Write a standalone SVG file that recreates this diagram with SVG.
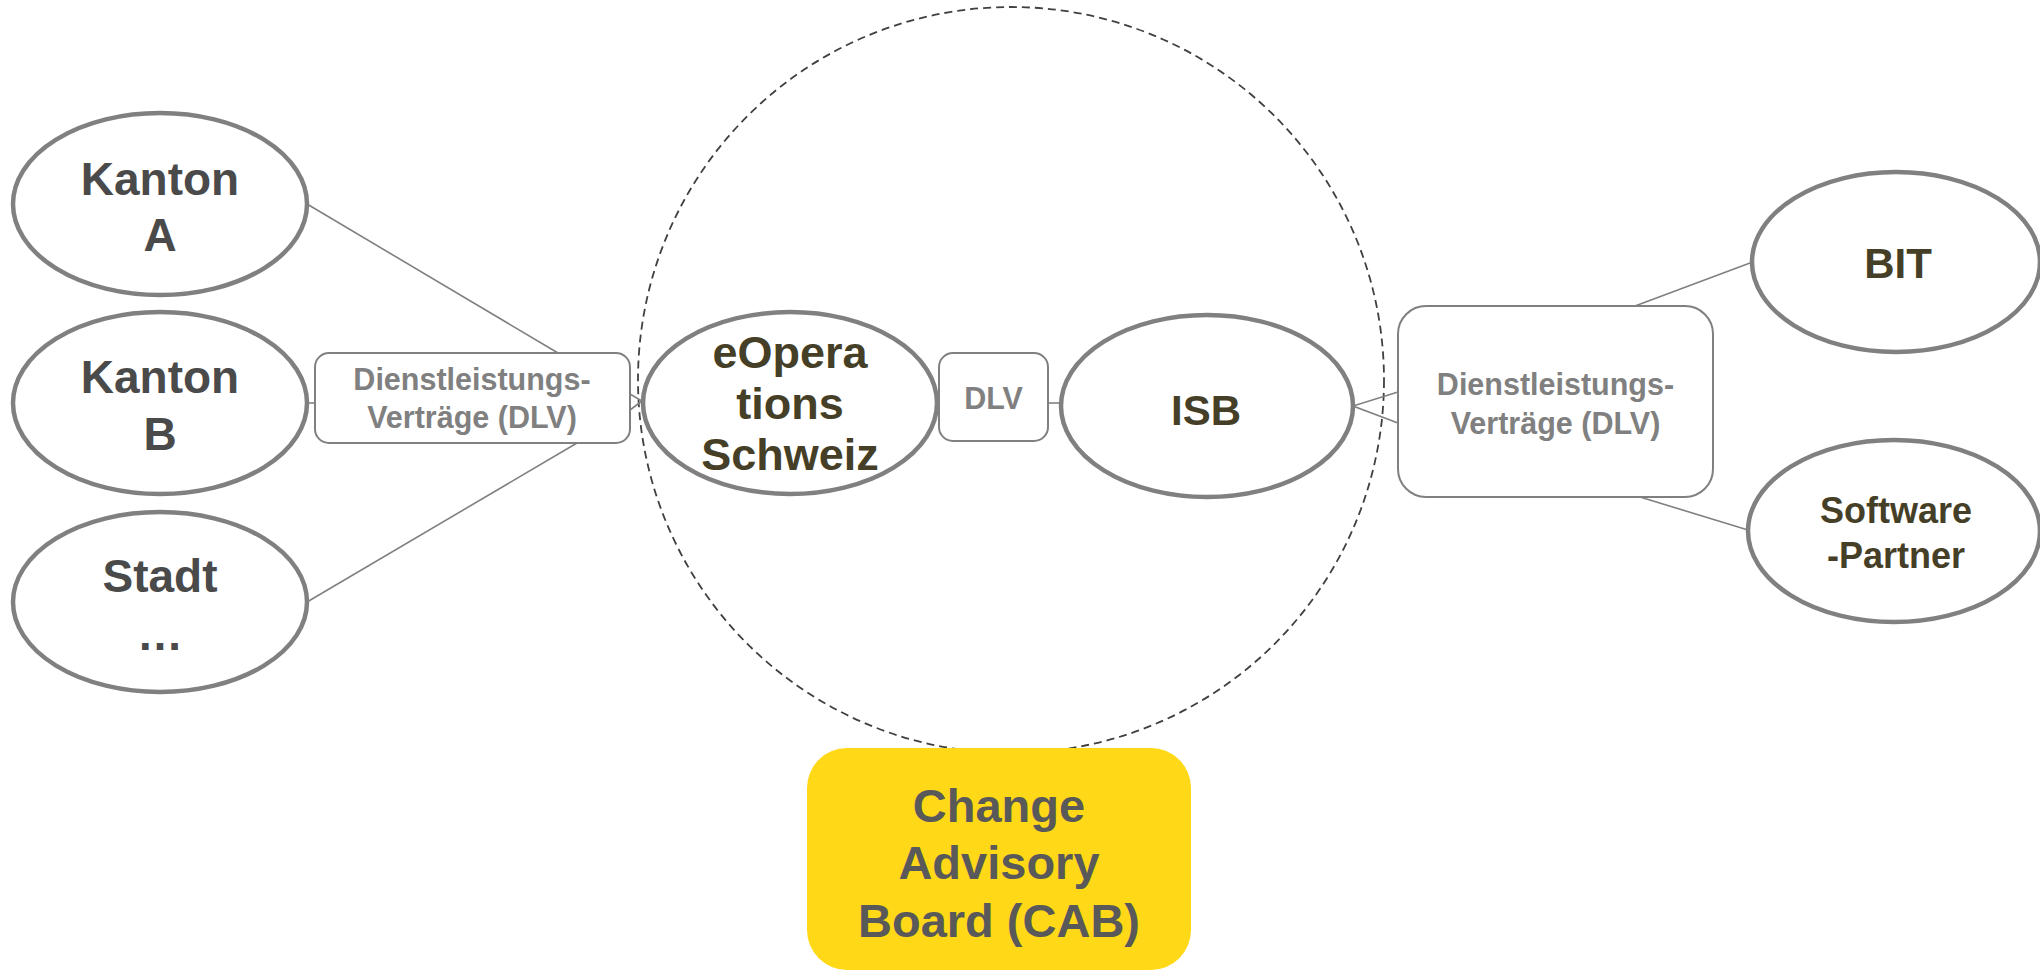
<svg xmlns="http://www.w3.org/2000/svg" width="2040" height="972" viewBox="0 0 2040 972">
<style>
.ell{fill:#fff;stroke:#808080;stroke-width:4.5}
.box{fill:#fff;stroke:#808080;stroke-width:2}
.con{stroke:#808080;stroke-width:1.6;fill:none}
.t{font-family:"Liberation Sans",Arial,sans-serif;font-weight:bold;text-anchor:middle}
.dark{fill:#4a4a4a;font-size:46px}
.olive{fill:#463f27}
.grey{fill:#808080;font-size:30.5px}
.cab{fill:#595959;font-size:47px}
</style>
<rect width="2040" height="972" fill="#fff"/>
<g id="scope">
<circle cx="1011" cy="380" r="373" fill="none" stroke="#404040" stroke-width="1.8" stroke-dasharray="8 5"/>
</g>
<g id="connectors">
<line class="con" x1="307" y1="204" x2="558" y2="353"/>
<line class="con" x1="307" y1="403" x2="315" y2="403"/>
<line class="con" x1="307" y1="602" x2="577" y2="443"/>
<polyline class="con" points="630,394 642,401 630,410"/>
<line class="con" x1="937" y1="403" x2="939" y2="403"/>
<line class="con" x1="1048" y1="403" x2="1062" y2="403"/>
<polyline class="con" points="1398,392 1353,406 1398,423"/>
<line class="con" x1="1635" y1="306" x2="1750" y2="263"/>
<line class="con" x1="1640" y1="497" x2="1748" y2="530"/>
</g>
<g id="kanton-a">
<ellipse class="ell" cx="160" cy="204" rx="147" ry="91"/>
<text class="t dark" x="160" y="195">Kanton</text>
<text class="t dark" x="160" y="251">A</text>
</g>
<g id="kanton-b">
<ellipse class="ell" cx="160" cy="403" rx="147" ry="91"/>
<text class="t dark" x="160" y="393">Kanton</text>
<text class="t dark" x="160" y="450">B</text>
</g>
<g id="stadt">
<ellipse class="ell" cx="160" cy="602" rx="147" ry="90"/>
<text class="t dark" x="160" y="592">Stadt</text>
<text class="t dark" x="160" y="650">…</text>
</g>
<g id="dlv-left">
<rect class="box" x="315" y="353" width="315" height="90" rx="14"/>
<text class="t grey" x="472" y="390">Dienstleistungs-</text>
<text class="t grey" x="472" y="428">Verträge (DLV)</text>
</g>
<g id="eoperations">
<ellipse class="ell" cx="790" cy="403" rx="147" ry="91"/>
<text class="t olive" x="790" y="368" font-size="45">eOpera</text>
<text class="t olive" x="790" y="419" font-size="45">tions</text>
<text class="t olive" x="790" y="470" font-size="45">Schweiz</text>
</g>
<g id="dlv-mid">
<rect class="box" x="939" y="353" width="109" height="88" rx="14"/>
<text class="t grey" x="993.5" y="409" font-size="32">DLV</text>
</g>
<g id="isb">
<ellipse class="ell" cx="1207" cy="406" rx="146" ry="91"/>
<text class="t olive" x="1206" y="425" font-size="42">ISB</text>
</g>
<g id="dlv-right">
<rect class="box" x="1398" y="306" width="315" height="191" rx="28"/>
<text class="t grey" x="1555.5" y="395">Dienstleistungs-</text>
<text class="t grey" x="1555.5" y="434">Verträge (DLV)</text>
</g>
<g id="bit">
<ellipse class="ell" cx="1896" cy="262" rx="144" ry="90"/>
<text class="t olive" x="1898" y="278" font-size="42">BIT</text>
</g>
<g id="software-partner">
<ellipse class="ell" cx="1894" cy="531" rx="146" ry="91"/>
<text class="t olive" x="1896" y="523" font-size="36">Software</text>
<text class="t olive" x="1896" y="568" font-size="36">-Partner</text>
</g>
<g id="cab">
<rect x="807" y="748" width="384" height="222" rx="40" fill="#FFD817"/>
<text class="t cab" x="999" y="822">Change</text>
<text class="t cab" x="999" y="879">Advisory</text>
<text class="t cab" x="999" y="937">Board (CAB)</text>
</g>
</svg>
